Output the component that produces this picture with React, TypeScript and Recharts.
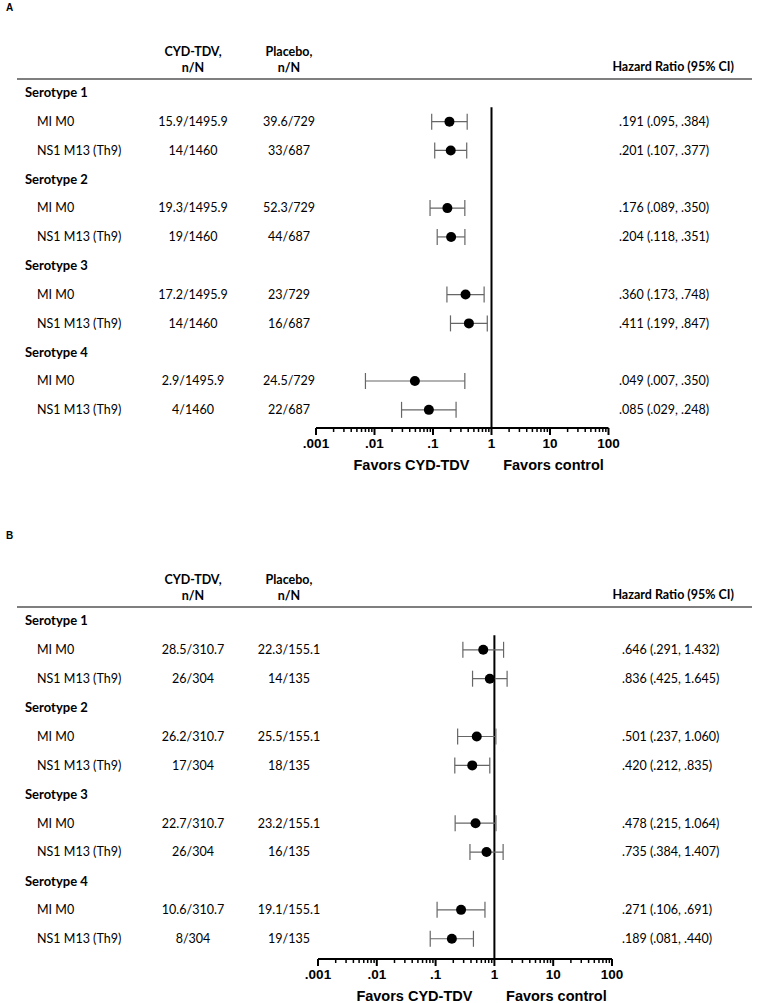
import { ScatterChart, Scatter, XAxis, YAxis, ErrorBar, ReferenceLine } from "recharts"

// rows: each serotype has two estimation methods
const serotypes = ["Serotype 1", "Serotype 2", "Serotype 3", "Serotype 4"]
const methods = ["MI M0", "NS1 M13 (Th9)"]

// panel A
const cydA = ["15.9/1495.9", "14/1460", "19.3/1495.9", "19/1460", "17.2/1495.9", "14/1460", "2.9/1495.9", "4/1460"]
const pboA = ["39.6/729", "33/687", "52.3/729", "44/687", "23/729", "16/687", "24.5/729", "22/687"]
const hrA = [0.191, 0.201, 0.176, 0.204, 0.36, 0.411, 0.049, 0.085]
const loA = [0.095, 0.107, 0.089, 0.118, 0.173, 0.199, 0.007, 0.029]
const hiA = [0.384, 0.377, 0.35, 0.351, 0.748, 0.847, 0.35, 0.248]

// panel B
const cydB = ["28.5/310.7", "26/304", "26.2/310.7", "17/304", "22.7/310.7", "26/304", "10.6/310.7", "8/304"]
const pboB = ["22.3/155.1", "14/135", "25.5/155.1", "18/135", "23.2/155.1", "16/135", "19.1/155.1", "19/135"]
const hrB = [0.646, 0.836, 0.501, 0.42, 0.478, 0.735, 0.271, 0.189]
const loB = [0.291, 0.425, 0.237, 0.212, 0.215, 0.384, 0.106, 0.081]
const hiB = [1.432, 1.645, 1.06, 0.835, 1.064, 1.407, 0.691, 0.44]

const majorTicks = [0.001, 0.01, 0.1, 1, 10, 100]
const majorLabels = [".001", ".01", ".1", "1", "10", "100"]
const minorMult = [2, 3, 4, 5, 6, 7, 8, 9]

const allTicks: number[] = []
majorTicks.forEach((t, i) => {
  allTicks.push(t)
  if (i < majorTicks.length - 1) minorMult.forEach((m) => allTicks.push(+(t * m).toPrecision(3)))
})

const TABLE_FONT = "Lato, 'Open Sans', sans-serif"
const AXIS_FONT = "'Liberation Sans', Arial, sans-serif"

const fmt = (v: number) => v.toFixed(3).replace(/^0\./, ".")

type Row = {
  kind: "group" | "item"
  label: string
  row: number
  cyd?: string
  pbo?: string
  hr?: number
  lo?: number
  hi?: number
  err?: [number, number]
}

function buildRows(cyd: string[], pbo: string[], hr: number[], lo: number[], hi: number[]) {
  const rows: Row[] = []
  let k = 0
  serotypes.forEach((s) => {
    rows.push({ kind: "group", label: s, row: rows.length })
    methods.forEach((m) => {
      rows.push({
        kind: "item",
        label: m,
        row: rows.length,
        cyd: cyd[k],
        pbo: pbo[k],
        hr: hr[k],
        lo: lo[k],
        hi: hi[k],
        err: [hr[k] - lo[k], hi[k] - hr[k]],
      })
      k++
    })
  })
  return rows
}

const rowsA = buildRows(cydA, pboA, hrA, loA, hiA)
const rowsB = buildRows(cydB, pboB, hrB, loB, hiB)

function RowTick(props: any) {
  const { y, payload, rows, hrX } = props
  const v = payload.value
  if (v === -1) {
    return (
      <g fontFamily={TABLE_FONT} fontWeight={700} fontSize={12.5} fill="#000">
        <text x={193} y={y - 12} dy="0.35em" textAnchor="middle">CYD-TDV,</text>
        <text x={193} y={y + 4} dy="0.35em" textAnchor="middle">n/N</text>
        <text x={289} y={y - 12} dy="0.35em" textAnchor="middle">Placebo,</text>
        <text x={289} y={y + 4} dy="0.35em" textAnchor="middle">n/N</text>
        <text x={734} y={y + 3} dy="0.35em" textAnchor="end">Hazard Ratio (95% CI)</text>
        <line x1={17} x2={752} y1={y + 15} y2={y + 15} stroke="#555" strokeWidth={1.5} />
      </g>
    )
  }
  const r: Row = rows[v]
  if (!r) return null
  if (r.kind === "group") {
    return (
      <text x={25} y={y} dy="0.35em" fontFamily={TABLE_FONT} fontWeight={700} fontSize={13} fill="#000">
        {r.label}
      </text>
    )
  }
  return (
    <g fontFamily={TABLE_FONT} fontSize={12.5} fill="#000">
      <text x={37} y={y} dy="0.35em">{r.label}</text>
      <text x={193} y={y} dy="0.35em" textAnchor="middle">{r.cyd}</text>
      <text x={289} y={y} dy="0.35em" textAnchor="middle">{r.pbo}</text>
      <text x={hrX} y={y} dy="0.35em">
        {`${fmt(r.hr!)} (${fmt(r.lo!)}, ${fmt(r.hi!)})`}
      </text>
    </g>
  )
}

function LogTick(props: any) {
  const { x, y, payload } = props
  const v = payload.value
  const idx = majorTicks.findIndex((t) => Math.abs(t - v) / t < 1e-6)
  const major = idx >= 0
  return (
    <g>
      <line x1={x} x2={x} y1={y} y2={y + (major ? 7 : 4)} stroke="#000" strokeWidth={major ? 2 : 1.5} />
      {major && (
        <text x={x} y={y + 15} dy="0.35em" textAnchor="middle" fontFamily={AXIS_FONT} fontWeight={700} fontSize={13.5} fill="#000">
          {majorLabels[idx]}
        </text>
      )}
    </g>
  )
}

function FavorsLabel(props: any) {
  const vb = props.viewBox || {}
  const oneX = vb.x + (vb.width * 3) / 5
  const ty = vb.y + 37
  return (
    <g fontFamily={AXIS_FONT} fontWeight={700} fontSize={14.5} fill="#000">
      <text x={oneX - 80} y={ty} dy="0.35em" textAnchor="middle">Favors CYD-TDV</text>
      <text x={oneX + 62} y={ty} dy="0.35em" textAnchor="middle">Favors control</text>
    </g>
  )
}

function Dot(props: any) {
  const { cx, cy } = props
  return <circle cx={cx} cy={cy} r={5} fill="#000" />
}

function ForestPanel({
  rows,
  top,
  height,
  left,
  right,
  yMax,
  bottom,
  hrX,
}: {
  rows: Row[]
  top: number
  height: number
  left: number
  right: number
  yMax: number
  bottom: number
  hrX: number
}) {
  const items = rows.filter((r) => r.kind === "item")
  const yTicks = [-1, ...rows.map((r) => r.row)]
  return (
    <div style={{ position: "absolute", left: 0, top }}>
      <ScatterChart width={758} height={height} margin={{ top: 64, right: 758 - right, bottom, left: 0 }}>
        <XAxis
          type="number"
          dataKey="hr"
          scale="log"
          domain={[0.001, 100]}
          ticks={allTicks}
          interval={0}
          tickSize={0}
          tickMargin={0}
          tickLine={false}
          axisLine={{ stroke: "#000", strokeWidth: 2 }}
          tick={<LogTick />}
          height={40}
          label={<FavorsLabel />}
        />
        <YAxis
          type="number"
          dataKey="row"
          domain={[-1, yMax]}
          reversed
          ticks={yTicks}
          interval={0}
          width={left}
          axisLine={false}
          tickLine={false}
          tick={(p: any) => <RowTick {...p} rows={rows} hrX={hrX} />}
        />
        <ReferenceLine
          segment={[
            { x: 1, y: 0.5 },
            { x: 1, y: yMax },
          ]}
          stroke="#000"
          strokeWidth={2}
        />
        <Scatter data={items} shape={<Dot />} isAnimationActive={false}>
          <ErrorBar dataKey="err" direction="x" width={8} stroke="#666" strokeWidth={1.2} isAnimationActive={false} />
        </Scatter>
      </ScatterChart>
    </div>
  )
}

export default function App() {
  return (
    <div style={{ position: "absolute", left: 0, top: 0, width: 758, height: 1003, background: "#fff" }}>
      <div style={{ position: "absolute", left: 6, top: 2, fontFamily: AXIS_FONT, fontWeight: 700, fontSize: 10 }}>A</div>
      <ForestPanel rows={rowsA} top={0} height={480} left={316} right={608.5} yMax={11.63} bottom={12} hrX={619} />
      <div style={{ position: "absolute", left: 6, top: 530, fontFamily: AXIS_FONT, fontWeight: 700, fontSize: 10 }}>B</div>
      <ForestPanel rows={rowsB} top={528} height={475} left={318} right={612} yMax={11.7} bottom={4} hrX={622} />
    </div>
  )
}
